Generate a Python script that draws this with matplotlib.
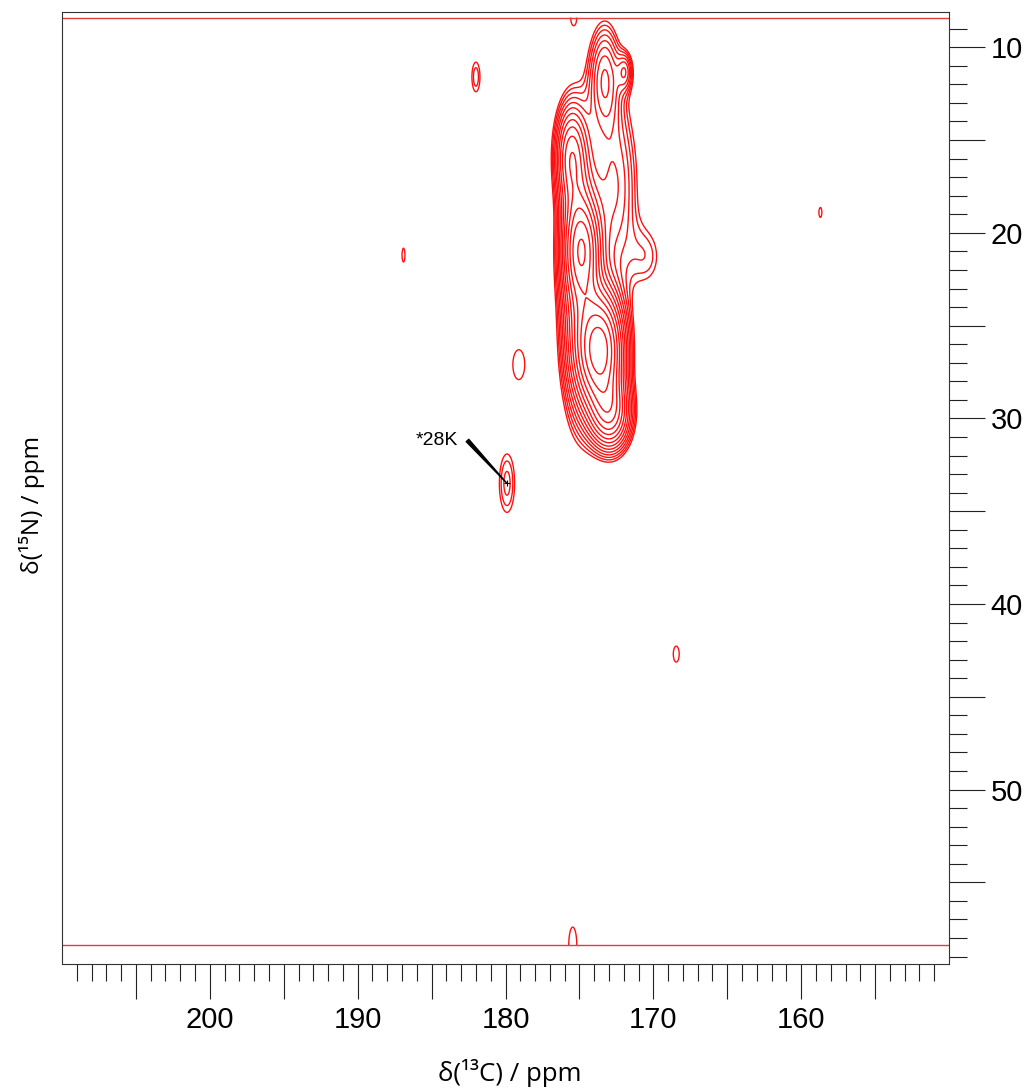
import numpy as np
import matplotlib
matplotlib.use('Agg')
import matplotlib.pyplot as plt
from matplotlib.ticker import FixedLocator, FuncFormatter

# peaks of the 2D spectrum (13C ppm, 15N ppm, height, widths)
peak_c13 = [173.6, 174.8, 175.6, 173.3, 171.9, 170.4, 172.9, 175.1, 172.6,
            179.9, 182.0, 179.1, 186.9, 158.7, 168.45, 175.4, 175.45]
peak_n15 = [26.3, 20.9, 15.8, 11.6, 11.3, 21.3, 29.8, 22.0, 17.5,
            33.5, 11.6, 27.1, 21.2, 18.9, 42.7, 8.4, 58.4]
peak_amp = [14.0, 7.0, 4.5, 3.2, 2.2, 1.2, 6.0, 4.0, 2.5,
            1.55, 1.35, 1.12, 1.05, 1.04, 1.05, 1.05, 1.06]
peak_sx = [1.0, 0.8, 0.7, 0.7, 0.35, 0.9, 0.9, 0.85, 1.1,
           0.55, 0.35, 0.84, 0.32, 0.36, 0.64, 0.35, 0.8]
peak_sy = [2.0, 1.8, 1.8, 1.9, 0.7, 1.4, 1.3, 5.0, 3.5,
           1.67, 1.03, 1.68, 1.2, 0.96, 1.38, 0.7, 2.9]

# spectral window edges (15N)
n15_edges = [8.4, 58.4]

# contour levels
level_base = 1.0
level_factor = 1.2
n_levels = 18

# ticks
x_major = [155, 160, 165, 170, 175, 180, 185, 190, 195, 200, 205]
x_minor = list(range(151, 210))
y_major = [10, 15, 20, 25, 30, 35, 40, 45, 50, 55]
y_minor = list(range(9, 60))

label_text = '*28K'
label_peak = (179.9, 33.5)

plt.rcParams['font.family'] = ['Liberation Sans', 'DejaVu Sans']

c13 = np.arange(150, 210.01, 0.05)
n15 = np.arange(n15_edges[0], n15_edges[1] + 0.001, 0.05)
X, Y = np.meshgrid(c13, n15)
Z = np.zeros_like(X)
for x0, y0, a, sx, sy in zip(peak_c13, peak_n15, peak_amp, peak_sx, peak_sy):
    Z += a * np.exp(-0.5 * ((X - x0) / sx) ** 2 - 0.5 * ((Y - y0) / sy) ** 2)

levels = level_base * level_factor ** np.arange(n_levels)

fig = plt.figure(figsize=(10.24, 10.88), dpi=100)
ax = fig.add_axes([62 / 1024, 1 - 964 / 1088, (949 - 62) / 1024, (964 - 12) / 1088])

ax.contour(X, Y, Z, levels=levels, colors='#ff1010', linewidths=1.0)
for e in n15_edges:
    ax.axhline(e, color='#e03c3c', lw=1.0)

ax.set_xlim(210, 150)
ax.set_ylim(59.4, 8.1)

# label with wedge pointer
ax.annotate('', xy=label_peak, xytext=(182.57, 31.19),
            arrowprops=dict(arrowstyle='wedge,tail_width=0.25', color='black',
                            shrinkA=0, shrinkB=0))
ax.text(183.2, 31.19, label_text, fontsize=14, ha='right', va='center')
ax.plot(label_peak[0], label_peak[1], marker='+', color='black', ms=5, mew=0.8)

fmt = FuncFormatter(lambda v, p: '%d' % round(v) if round(v) % 10 == 0 else '')
ax.xaxis.set_major_locator(FixedLocator(x_major))
ax.xaxis.set_minor_locator(FixedLocator(x_minor))
ax.xaxis.set_major_formatter(fmt)
ax.yaxis.set_major_locator(FixedLocator(y_major))
ax.yaxis.set_minor_locator(FixedLocator(y_minor))
ax.yaxis.set_major_formatter(fmt)
ax.yaxis.tick_right()
ax.tick_params(axis='x', which='major', direction='out', length=25, width=0.8,
               pad=5, labelsize=21, colors='#222222')
ax.tick_params(axis='x', which='minor', direction='out', length=12, width=0.8,
               colors='#222222')
ax.tick_params(axis='y', which='major', direction='out', length=26, width=0.8,
               pad=4, labelsize=21, colors='#222222')
ax.tick_params(axis='y', which='minor', direction='out', length=13, width=0.8,
               colors='#222222')
for lab in ax.get_xticklabels() + ax.get_yticklabels():
    lab.set_color('black')
for s in ax.spines.values():
    s.set_linewidth(0.8)
    s.set_color('#333333')

fig.text(510 / 1024, 1 - 1073 / 1088, 'δ(¹³C) / ppm', fontsize=18.5,
         family=['Open Sans', 'DejaVu Sans'], ha='center', va='center')
fig.text(32 / 1024, 1 - 505 / 1088, 'δ(¹⁵N) / ppm', fontsize=17.5,
         family=['Open Sans', 'DejaVu Sans'], ha='center', va='center', rotation=90)

fig.savefig('out.png', dpi=100)
